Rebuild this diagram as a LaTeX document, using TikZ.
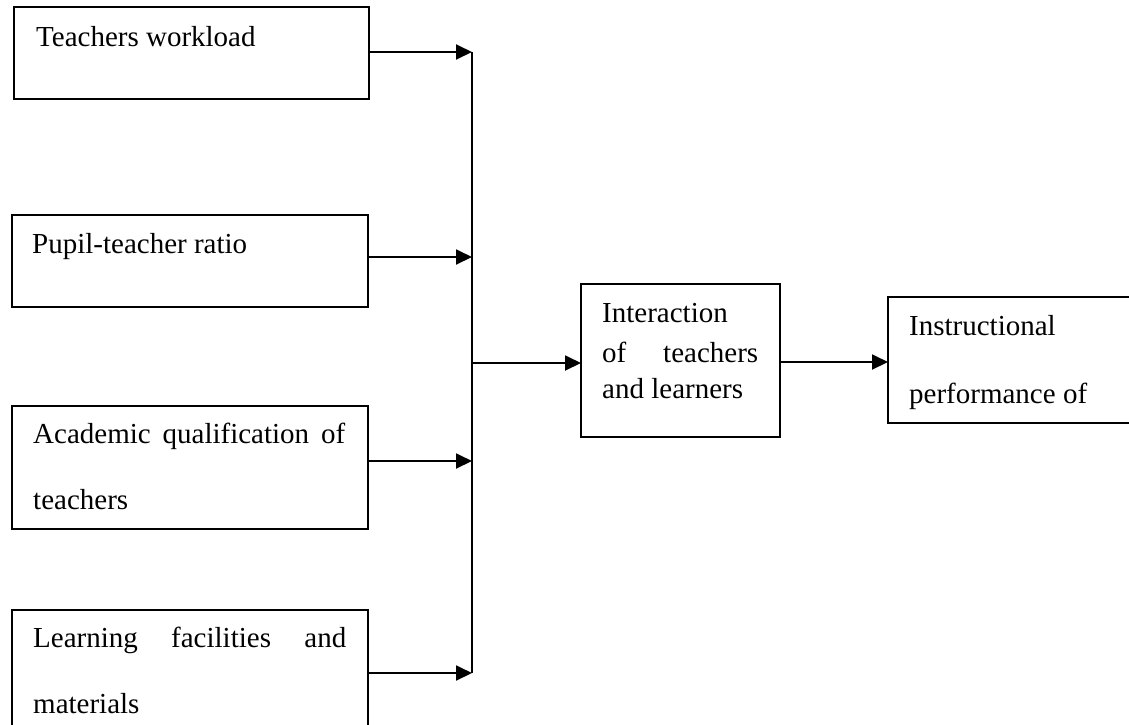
\documentclass[tikz,border=0pt]{standalone}
\usepackage{fontspec}
\setmainfont{Liberation Serif}
\usetikzlibrary{arrows.meta}
\begin{document}
\begin{tikzpicture}[x=1pt,y=-1pt,
  box/.style={draw, line width=1.9pt, rectangle, inner sep=0pt, outer sep=0pt, anchor=north west},
  lbl/.style={inner sep=0pt, anchor=base west, font=\fontsize{29}{35}\selectfont},
  arr/.style={line width=1.9pt, -{Triangle[length=16pt,width=15pt]}},
  ln/.style={line width=1.9pt}]
\useasboundingbox (0,0) rectangle (1129,724);
\clip (0,0) rectangle (1129,724);
% boxes
\node[box, minimum width=355pt, minimum height=92pt] (b1) at (14,7) {};
\node[box, minimum width=356pt, minimum height=92pt] (b2) at (12,215) {};
\node[box, minimum width=356pt, minimum height=123pt] (b3) at (12,406) {};
\node[box, minimum width=356pt, minimum height=126pt] (b4) at (12,610) {};
\node[box, minimum width=199pt, minimum height=153pt] (bi) at (581,284) {};
\node[box, minimum width=260pt, minimum height=126pt] (bp) at (888,297) {};
% texts
\node[lbl] (t1) at (36,46) {Teachers workload};
\node[lbl] (t2) at (32,253) {Pupil-teacher ratio};
\node[lbl] (t3a) at (33,443) {\makebox[312pt][s]{Academic qualification of}};
\node[lbl] (t3b) at (33,509) {teachers};
\node[lbl] (t4a) at (33,647) {\makebox[313pt][s]{Learning facilities and}};
\node[lbl] (t4b) at (33,713) {materials};
\node[lbl] (ti1) at (602,322) {Interaction};
\node[lbl] (ti2) at (602,362) {\makebox[156pt][s]{of teachers}};
\node[lbl] (ti3) at (602,398) {and learners};
\node[lbl] (tp1) at (909,335) {Instructional};
\node[lbl] (tp2) at (909,403) {performance of};
% junction line
\coordinate (vt) at (472,52);
\coordinate (v2) at (472,257);
\coordinate (v3) at (472,461);
\coordinate (vb) at (472,673);
\coordinate (vm) at (472,363);
\draw[ln] (vt) -- (vb);
\draw[arr] (b1.east |- vt) -- (vt);
\draw[arr] (b2.east |- v2) -- (v2);
\draw[arr] (b3.east |- v3) -- (v3);
\draw[arr] (b4.east |- vb) -- (vb);
\draw[arr] (vm) -- (bi.west |- vm);
\draw[arr] ([yshift=-1.5pt]bi.east) -- ([yshift=-1.5pt]bi.east -| bp.west);
\end{tikzpicture}
\end{document}
